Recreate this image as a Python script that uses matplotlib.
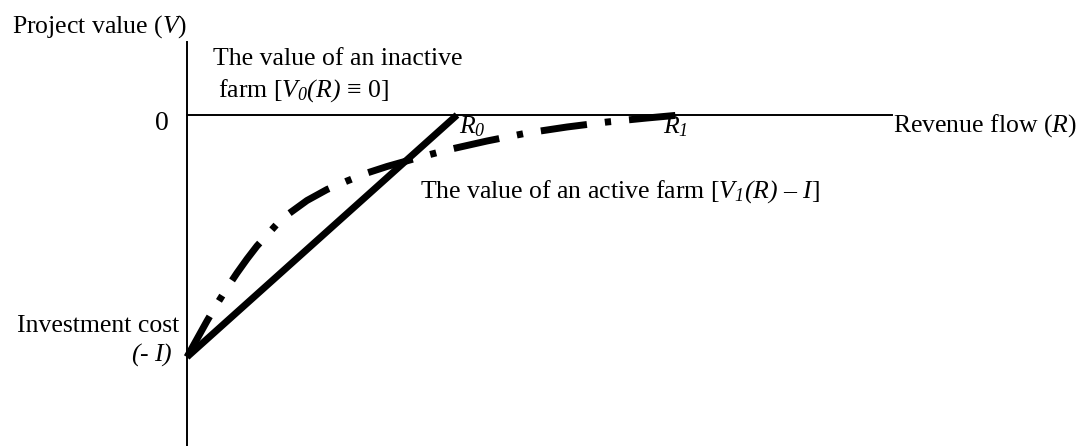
import matplotlib
matplotlib.use("Agg")
import matplotlib.pyplot as plt

plt.rcParams['font.family'] = ['Liberation Serif', 'DejaVu Serif']
plt.rcParams['mathtext.fontset'] = 'custom'
# all math pieces in this figure are italic (incl. digits and brackets)
plt.rcParams['mathtext.rm'] = 'Liberation Serif:italic'
plt.rcParams['mathtext.it'] = 'Liberation Serif:italic'

# Conceptual values (arbitrary units)
I = 2.42      # investment cost
R0 = 2.70     # break-even revenue of the static NPV line
R1 = 4.93     # trigger revenue of the option curve

# straight line: value of an active farm, static view
line_R = [0, R0]
line_V = [-I, 0]

# dash-dot curve: value of an active farm V1(R) - I
curve_R = [0, 0.1, 0.2, 0.3, 0.4, 0.5, 0.6, 0.7, 0.8, 0.9, 1.0, 1.2, 1.4,
           1.6, 1.8, 2.0, 2.3, 2.6, 3.0, 3.4, 3.8, 4.2, 4.6, 4.93]
curve_V = [-2.42, -2.24, -2.06, -1.89, -1.73, -1.58, -1.44, -1.31, -1.20,
           -1.09, -1.00, -0.855, -0.745, -0.66, -0.58, -0.515, -0.43, -0.35,
           -0.26, -0.18, -0.12, -0.07, -0.03, 0.0]

fig = plt.figure(figsize=(10.84, 4.46), dpi=100)
ax = fig.add_axes([0, 0, 1, 1])
ax.set_xlim(-1.87, 8.97)
ax.set_ylim(-3.31, 1.15)
ax.axis('off')

# axes drawn by hand
ax.plot([0, 7.05], [0, 0], color='black', lw=1.4)
ax.plot([0, 0], [-3.31, 0.73], color='black', lw=1.4)

ax.plot(line_R, line_V, color='black', lw=5, solid_capstyle='butt')
ax.plot(curve_R, curve_V, color='black', lw=5,
        linestyle=(0, (6.7, 2.6, 0.9, 2.6)), dash_capstyle='butt')

fs = 18.5
ax.text(-1.75, 0.82, r'Project value ($V$)', fontsize=fs, va='baseline')
ax.text(-0.25, -0.09, '0', fontsize=20, ha='center', va='center')
ax.text(0.26, 0.50, 'The value of an inactive', fontsize=fs, va='baseline')
ax.text(0.31, 0.18, r'farm [$V_0(R)$ ≡ 0]', fontsize=fs, va='baseline')
ax.text(R0 + 0.02, -0.18, r'$R_0$', fontsize=fs, va='baseline')
ax.text(R1 - 0.17, -0.18, r'$R_1$', fontsize=fs, va='baseline')
ax.text(7.06, -0.17, r'Revenue flow ($R$)', fontsize=fs, va='baseline')
ax.text(2.33, -0.83, r'The value of an active farm [$V_1(R)$ – $I$]',
        fontsize=fs, va='baseline')
ax.text(-0.08, -2.17, 'Investment cost', fontsize=fs, ha='right', va='baseline')
ax.text(-0.14, -2.46, r'$(\text{-}\ I)$', fontsize=fs, ha='right', va='baseline')

fig.savefig('out.png', dpi=100)
